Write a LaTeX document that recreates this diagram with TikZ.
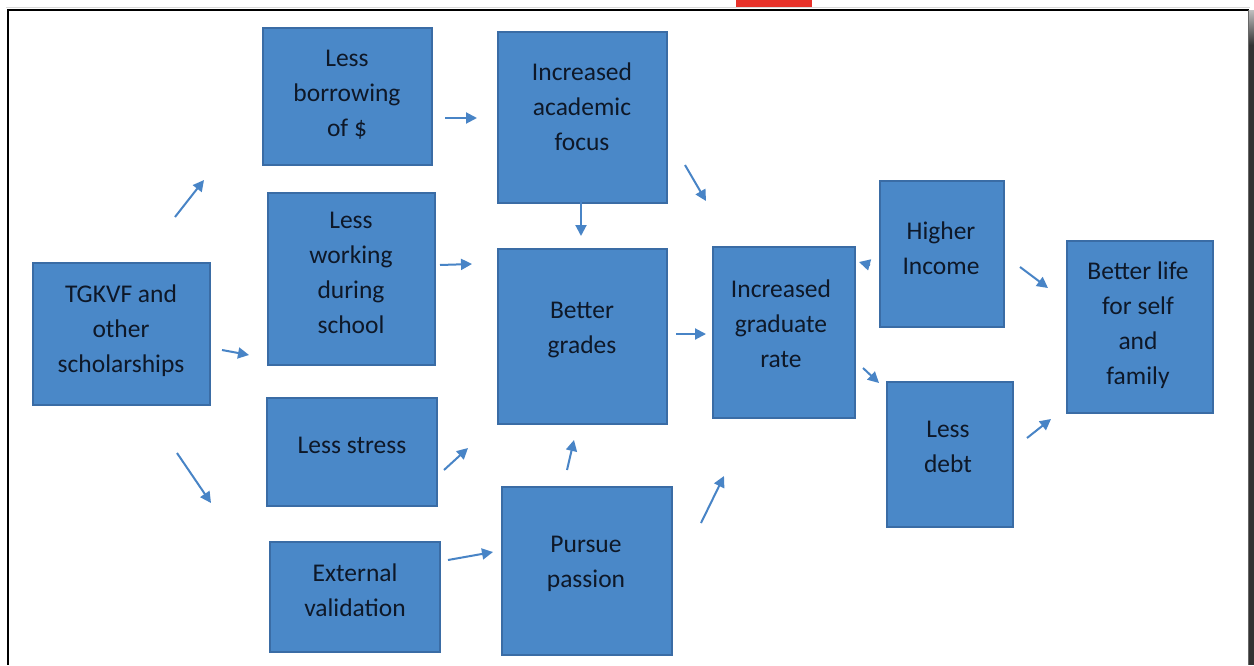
\documentclass[tikz,border=0pt]{standalone}
\usepackage{fontspec}
\setmainfont{Carlito}
\usetikzlibrary{arrows.meta}
\definecolor{boxblue}{RGB}{74,136,200}
\definecolor{boxedge}{RGB}{58,108,165}
\definecolor{arrblue}{RGB}{72,132,198}
\definecolor{txtc}{RGB}{14,24,40}
\definecolor{framered}{RGB}{232,50,42}
\tikzset{
  box/.style={rectangle, fill=boxblue, draw=boxedge, line width=1.2pt, inner sep=0pt},
  txt/.style={align=center, text=txtc, font=\fontsize{25.5}{35}\selectfont, inner sep=0pt},
  arr/.style={-{Triangle[length=11pt,width=11pt]}, draw=arrblue, line width=2pt},
}
\begin{document}
\begin{tikzpicture}[x=1pt,y=-1pt]
\useasboundingbox (0,0) rectangle (1254,665);
\fill[white] (0,0) rectangle (1254,665);
% frame
\fill[framered] (736,0) rectangle (812,8);
\draw[black!15, line width=1pt] (6,7.5) -- (1250,7.5);
\draw[black, line width=2pt] (7,9.5) -- (1249,9.5);
\draw[black, line width=2pt] (7.5,9) -- (7.5,665);
\shade[top color=black!25, bottom color=black!80] (1248,10) rectangle (1254,45);
\fill[black!80] (1248,45) rectangle (1254,665);
\draw[black!60, line width=1pt] (1248,10) -- (1248,665);

% boxes
\node[box, minimum width=177, minimum height=142] (tg)   at (121.5,334) {};
\node[box, minimum width=169, minimum height=137] (bor)  at (347.5,96.5) {};
\node[box, minimum width=167, minimum height=172] (wrk)  at (351.5,279) {};
\node[box, minimum width=170, minimum height=108] (str)  at (352,452) {};
\node[box, minimum width=170, minimum height=110] (ext)  at (355,597) {};
\node[box, minimum width=169, minimum height=171] (acad) at (582.5,117.5) {};
\node[box, minimum width=169, minimum height=175] (grd)  at (582.5,336.5) {};
\node[box, minimum width=170, minimum height=168] (pas)  at (587,571) {};
\node[box, minimum width=142, minimum height=171] (grad) at (784,332.5) {};
\node[box, minimum width=124, minimum height=146] (inc)  at (942,254) {};
\node[box, minimum width=126, minimum height=145] (debt) at (950,454.5) {};
\node[box, minimum width=146, minimum height=172] (life) at (1140,327) {};

% texts
\node[txt] (tgt)   at (121,331) {TGKVF and\\other\\scholarships};
\node[txt] (bort)  at (347,95) {Less\\borrowing\\of \$};
\node[txt] (wrkt)  at (351,273) {Less\\working\\during\\school};
\node[txt] (strt)  at (352,445) {Less stress};
\node[txt] (extt)  at (355,590) {External\\validation};
\node[txt] (acadt) at (582,107) {Increased\\academic\\focus};
\node[txt] (grdt)  at (582,330) {Better\\grades};
\node[txt] (past)  at (586,564) {Pursue\\passion};
\node[txt] (gradt) at (781,324) {Increased\\graduate\\rate};
\node[txt] (inct)  at (941,248) {Higher\\Income};
\node[txt] (debtt) at (948,447) {Less\\debt};
\node[txt] (lifet) at (1138,325) {Better life\\for self\\and\\family};

% arrow end points
\coordinate (a1s) at (175,217);  \coordinate (a1e) at (204,180);
\coordinate (a2s) at (222,350);  \coordinate (a2e) at (249,355);
\coordinate (a3s) at (177,453);  \coordinate (a3e) at (211,503);
\coordinate (a4s) at (445,118);  \coordinate (a4e) at (477,118);
\coordinate (a5s) at (440,265);  \coordinate (a5e) at (472,264);
\coordinate (a6s) at (444,470);  \coordinate (a6e) at (468,448);
\coordinate (a7s) at (448,560);  \coordinate (a7e) at (493,552);
\coordinate (a8s) at (581,200);  \coordinate (a8e) at (581,236);
\coordinate (a9s) at (685,165);  \coordinate (a9e) at (706,201);
\coordinate (a10s) at (676,334); \coordinate (a10e) at (706,334);
\coordinate (a11s) at (567,470); \coordinate (a11e) at (574,440);
\coordinate (a12s) at (701,523); \coordinate (a12e) at (724,476);
\coordinate (a13s) at (870,265); \coordinate (a13e) at (859,262);
\coordinate (a14s) at (863,368); \coordinate (a14e) at (879,383);
\coordinate (a15s) at (1020,267); \coordinate (a15e) at (1048,288);
\coordinate (a16s) at (1027,438); \coordinate (a16e) at (1051,419);

\foreach \i in {1,...,16} {\draw[arr] (a\i s) -- (a\i e);}
\end{tikzpicture}
\end{document}
